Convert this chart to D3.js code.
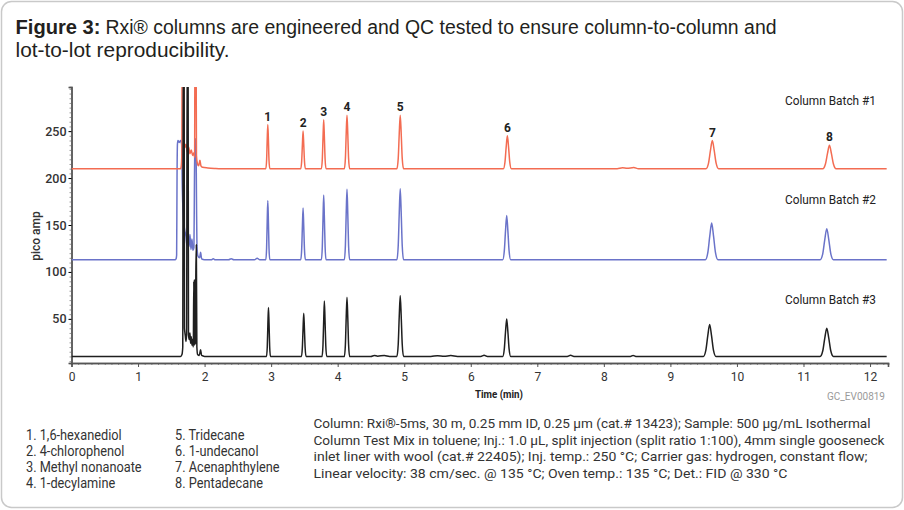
<!DOCTYPE html>
<html><head><meta charset="utf-8">
<script src="https://cdn.jsdelivr.net/npm/d3@7"></script>
<style>body{margin:0;background:#fff;} svg{display:block;}</style>
</head><body><svg id="c" width="904" height="510"></svg>
<script>
// ---------------- DATA ----------------
const xTicks = [0,1,2,3,4,5,6,7,8,9,10,11,12];
const yTicks = [50,100,150,200,250];
const peakNumbers = ["1","2","3","4","5","6","7","8"];
const peakTimes = [2.95,3.48,3.79,4.14,4.94,6.55,9.63,11.39];
const seriesNames = ["Column Batch #1","Column Batch #2","Column Batch #3"];

// Column Batch #1 (red) [time(min), pA]
const batch1 = [
 [0,210],[1.64,210],[1.65,213],[1.658,225],[1.663,340],[1.685,340],[1.69,238],[1.70,232],[1.72,236],[1.74,228],
 [1.76,233],[1.78,226],[1.80,230],[1.82,224],[1.84,227],[1.85,222],[1.855,340],[1.872,340],[1.878,224],[1.89,216],
 [1.91,213],[1.93,219],[1.945,213],[1.97,211.5],[2.05,210.8],[2.15,210.3],[2.25,210],
 [2.92,210],[2.932,219],[2.941,241],[2.95,257],[2.959,241],[2.968,219],[2.98,210],
 [3.445,210],[3.459,218],[3.47,236],[3.48,250],[3.49,236],[3.501,218],[3.515,210],
 [3.755,210],[3.769,220],[3.78,244],[3.79,262],[3.80,244],[3.811,220],[3.825,210],
 [4.10,210],[4.116,221],[4.128,247],[4.14,267],[4.152,247],[4.164,221],[4.18,210],
 [4.89,210],[4.91,221],[4.925,247],[4.94,267],[4.955,247],[4.97,221],[4.99,210],
 [6.49,210],[6.514,217],[6.532,233],[6.55,245],[6.568,233],[6.586,217],[6.61,210],
 [8.2,210],[8.28,211],[8.35,210.4],[8.45,211.2],[8.52,210],
 [9.535,210],[9.573,216],[9.602,229.5],[9.63,240],[9.658,229.5],[9.687,216],[9.725,210],
 [11.29,210],[11.33,215],[11.36,226],[11.39,235],[11.42,226],[11.45,215],[11.49,210],
 [12.25,210]
];

// Column Batch #2 (blue)
const batch2 = [
 [0,113],[1.56,113],[1.572,114],[1.58,118],[1.586,200],[1.592,236],[1.60,240],[1.62,238],[1.64,240],[1.655,236],
 [1.665,190],[1.68,160],[1.70,145],[1.72,138],[1.735,128],[1.75,143],[1.765,127],[1.78,140],[1.795,124],[1.81,135],
 [1.825,123],[1.84,126],[1.848,200],[1.856,240],[1.87,242],[1.878,180],[1.885,128],[1.90,117],[1.925,115],[1.94,121],
 [1.955,114],[2.0,113],[2.1,113],[2.13,114],[2.16,113],[2.36,113],[2.4,114],[2.44,113],[2.75,113],[2.79,114.5],[2.83,113],
 [2.92,113],[2.932,125.6],[2.941,154],[2.95,176],[2.959,154],[2.968,125.6],[2.98,113],
 [3.445,113],[3.459,124],[3.47,148.8],[3.48,168],[3.49,148.8],[3.501,124],[3.515,113],
 [3.755,113],[3.769,126.8],[3.78,157.9],[3.79,182],[3.80,157.9],[3.811,126.8],[3.825,113],
 [4.10,113],[4.116,128],[4.128,161.8],[4.14,188],[4.152,161.8],[4.164,128],[4.18,113],
 [4.89,113],[4.91,128.1],[4.925,162],[4.94,188.5],[4.955,162],[4.97,128.1],[4.99,113],
 [6.48,113],[6.504,122.4],[6.522,143.5],[6.54,160],[6.558,143.5],[6.576,122.4],[6.60,113],
 [9.525,113],[9.563,120.8],[9.592,138.4],[9.62,152],[9.648,138.4],[9.677,120.8],[9.715,113],
 [11.25,113],[11.29,119.6],[11.32,134.5],[11.35,146],[11.38,134.5],[11.41,119.6],[11.45,113],
 [12.25,113]
];

// Column Batch #3 (black)
const batch3 = [
 [0,10],[1.64,10],[1.66,12],[1.672,20],[1.678,340],[1.692,340],[1.698,40],[1.71,32],[1.72,26],[1.73,34],
 [1.738,340],[1.752,340],[1.758,33],[1.77,28],[1.78,35],[1.79,24],[1.80,31],[1.81,22],[1.82,28],[1.83,20],
 [1.838,90],[1.843,22],[1.848,92],[1.853,22],[1.858,92],[1.863,24],[1.868,95],[1.876,129],[1.884,20],[1.895,12],
 [1.92,11],[1.94,17],[1.955,11],[2.0,10],
 [2.93,10],[2.942,20.4],[2.951,43.8],[2.96,62],[2.969,43.8],[2.978,20.4],[2.99,10],
 [3.455,10],[3.469,19.2],[3.48,39.9],[3.49,56],[3.50,39.9],[3.511,19.2],[3.525,10],
 [3.765,10],[3.779,21.8],[3.79,48.4],[3.80,69],[3.81,48.4],[3.821,21.8],[3.835,10],
 [4.10,10],[4.116,22.6],[4.128,51],[4.14,73],[4.152,51],[4.164,22.6],[4.18,10],
 [4.5,10],[4.55,11],[4.6,10.3],[4.7,11],[4.78,10],
 [4.89,10],[4.91,23],[4.925,52.3],[4.94,75],[4.955,52.3],[4.97,23],[4.99,10],
 [5.4,10],[5.5,10.8],[5.6,10.2],[5.7,10.9],[5.8,10],[6.15,10],[6.2,11.2],[6.25,10],
 [6.48,10],[6.504,18],[6.522,36],[6.54,50],[6.558,36],[6.576,18],[6.60,10],
 [7.45,10],[7.5,11.2],[7.55,10],[8.4,10],[8.44,11],[8.48,10],
 [9.495,10],[9.533,16.8],[9.562,32.1],[9.59,44],[9.618,32.1],[9.647,16.8],[9.685,10],
 [11.25,10],[11.29,16],[11.32,29.5],[11.35,40],[11.38,29.5],[11.41,16],[11.45,10],
 [12.25,10]
];

const compounds = ["1. 1,6-hexanediol","2. 4-chlorophenol","3. Methyl nonanoate","4. 1-decylamine",
                   "5. Tridecane","6. 1-undecanol","7. Acenaphthylene","8. Pentadecane"];
const conditions = [
 "Column: Rxi®-5ms, 30 m, 0.25 mm ID, 0.25 μm (cat.# 13423); Sample: 500 μg/mL Isothermal",
 "Column Test Mix in toluene; Inj.: 1.0 μL, split injection (split ratio 1:100), 4mm single gooseneck",
 "inlet liner with wool (cat.# 22405); Inj. temp.: 250 °C; Carrier gas: hydrogen, constant flow;",
 "Linear velocity: 38 cm/sec. @ 135 °C; Oven temp.: 135 °C; Det.: FID @ 330 °C"
];
const conditionWidths = [557, 571, 554, 474];

// ---------------- DRAW ----------------
const svg = d3.select("#c");
const FONT = "'Liberation Sans', Arial, sans-serif";
const COND = "Roboto, 'Open Sans', sans-serif";
const TXT = "#231f20";

svg.append("rect").attr("x",1.5).attr("y",1.5).attr("width",901).attr("height",506)
  .attr("rx",10).attr("fill","#fff").attr("stroke","#c9c9c9").attr("stroke-width",1.5);

// Title
svg.append("text").attr("x",15.5).attr("y",34.3).attr("font-family",FONT)
  .attr("font-size",19.5).attr("font-weight",700).attr("fill",TXT).text("Figure 3:")
  .attr("textLength",85).attr("lengthAdjust","spacingAndGlyphs");
svg.append("text").attr("x",105.5).attr("y",34.3).attr("font-family",FONT)
  .attr("font-size",19.5).attr("fill",TXT)
  .text("Rxi® columns are engineered and QC tested to ensure column-to-column and")
  .attr("textLength",671).attr("lengthAdjust","spacingAndGlyphs");
svg.append("text").attr("x",15.5).attr("y",57.3).attr("font-family",FONT)
  .attr("font-size",19.5).attr("fill",TXT).text("lot-to-lot reproducibility.")
  .attr("textLength",214).attr("lengthAdjust","spacingAndGlyphs");

// Scales
const x = d3.scaleLinear().domain([0,12.27]).range([71.5,888]);
const y = d3.scaleLinear().domain([3,297]).range([363,87]);

// Axes
const gx = svg.append("g").attr("transform",`translate(0,${y(3)})`);
gx.call(d3.axisBottom(x).tickValues(d3.range(0,12.21,0.1)).tickSize(2).tickFormat(""));
gx.call(g=>g.selectAll(".tick line").attr("stroke","#888"));
const gx2 = svg.append("g").attr("transform",`translate(0,${y(3)})`);
gx2.call(d3.axisBottom(x).tickValues(xTicks).tickSize(4).tickPadding(5).tickFormat(d3.format("d")));
gx2.selectAll("text").attr("font-family",COND).attr("font-size",12).attr("fill","#333");
gx2.selectAll(".tick line").attr("stroke","#555");
[gx,gx2].forEach(g=>g.select(".domain").attr("stroke","#555").attr("stroke-width",1.6));

const gy = svg.append("g").attr("transform",`translate(${x(0)},0)`);
gy.call(d3.axisLeft(y).tickValues(d3.range(5,296,5)).tickSize(2).tickFormat(""));
gy.selectAll(".tick line").attr("stroke","#999");
const gy2 = svg.append("g").attr("transform",`translate(${x(0)},0)`);
gy2.call(d3.axisLeft(y).tickValues(yTicks).tickSize(3).tickPadding(2));
gy2.selectAll("text").attr("font-family",COND).attr("font-size",12.5).attr("font-weight",500).attr("fill","#333");
[gy,gy2].forEach(g=>g.select(".domain").attr("stroke","#555").attr("stroke-width",1.4));

// axis titles
svg.append("text").attr("transform","translate(40,236) rotate(-90)").attr("text-anchor","middle")
  .attr("font-family",COND).attr("font-size",12).attr("font-weight",500).attr("fill","#333").text("pico amp");
svg.append("text").attr("x",499).attr("y",398).attr("text-anchor","middle")
  .attr("font-family",COND).attr("font-size",11.5).attr("font-weight",700).attr("fill","#222").text("Time (min)")
  .attr("textLength",48).attr("lengthAdjust","spacingAndGlyphs");
svg.append("text").attr("x",885).attr("y",400).attr("text-anchor","end")
  .attr("font-family",COND).attr("font-size",11).attr("fill","#9a9a9a").text("GC_EV00819")
  .attr("textLength",58).attr("lengthAdjust","spacingAndGlyphs");

// Clip
svg.append("clipPath").attr("id","plotclip").append("rect")
  .attr("x",x(0)).attr("y",y(297)).attr("width",x(12.27)-x(0)).attr("height",y(3)-y(297));

const line = d3.line().x(d=>x(d[0])).y(d=>y(d[1])).curve(d3.curveMonotoneX);
const traces = [
  {data:batch2,color:"#6a73c9"},
  {data:batch1,color:"#f36c52"},
  {data:batch3,color:"#1f1f1f"}
];
const plot = svg.append("g").attr("clip-path","url(#plotclip)");
plot.selectAll("path").data(traces).join("path")
  .attr("d",d=>line(d.data)).attr("fill","none").attr("stroke",d=>d.color)
  .attr("stroke-width",1.5).attr("stroke-linejoin","round");

// Peak labels (above batch 1 apexes)
peakNumbers.forEach((lab,i)=>{
  const t = peakTimes[i];
  const near = batch1.filter(p=>Math.abs(p[0]-t)<0.02);
  const top = d3.max(near,p=>p[1]);
  svg.append("text").attr("x",x(t)).attr("y",y(top)-4).attr("text-anchor","middle")
    .attr("font-family",COND).attr("font-size",12).attr("font-weight",700).attr("fill","#222").text(lab);
});

// Series labels
const seriesBaseY = [105,204,304];
seriesNames.forEach((s,i)=>{
  svg.append("text").attr("x",876).attr("y",seriesBaseY[i]).attr("text-anchor","end")
    .attr("font-family",COND).attr("font-size",13.5).attr("fill","#222").text(s)
    .attr("textLength",91).attr("lengthAdjust","spacingAndGlyphs");
});

// Compound list
compounds.forEach((c,i)=>{
  const col = Math.floor(i/4), row = i%4;
  const tx = svg.append("text").attr("x",col===0?26:175).attr("y",440+row*16)
    .attr("font-family",COND).attr("font-size",14.5).attr("fill","#333").text(c);
  const w = tx.node().getComputedTextLength();
  tx.attr("textLength",w*0.88).attr("lengthAdjust","spacingAndGlyphs");
});

// Conditions
conditions.forEach((c,i)=>{
  svg.append("text").attr("x",313.5).attr("y",428+i*16.7)
    .attr("font-family",COND).attr("font-size",13.5).attr("fill","#333").text(c)
    .attr("textLength",conditionWidths[i]).attr("lengthAdjust","spacingAndGlyphs");
});
</script></body></html>
